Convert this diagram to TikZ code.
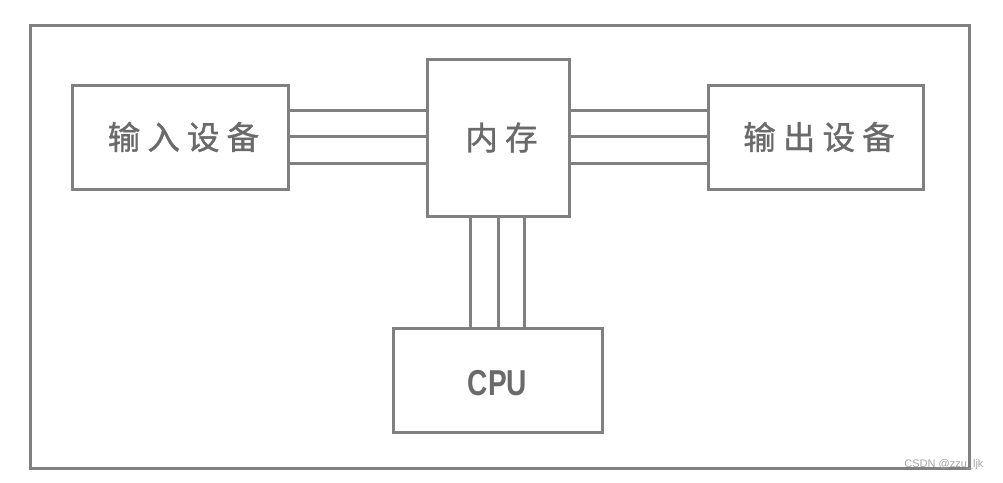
\documentclass[tikz,border=0pt]{standalone}
\usepackage{fontspec}
\setmainfont{Liberation Sans}
\newfontfamily\cjk[LetterSpace=22,FakeBold=1.2]{Noto Sans CJK SC}
\begin{document}
\begin{tikzpicture}[x=1pt,y=-1pt,
  frame/.style={draw=linegray,line width=3pt},
  unit/.style={draw=linegray,line width=3pt,fill=white,inner sep=0pt},
  bus/.style={draw=linegray,line width=3pt},
  lbl/.style={text=textgray,font=\cjk\fontsize{32.5}{32.5}\selectfont}]
\definecolor{linegray}{HTML}{808080}
\definecolor{textgray}{HTML}{6A6A6A}
\useasboundingbox (0,0) rectangle (1003,482);
\draw[frame] (30,25) rectangle (969,468);
% buses
\coordinate (l1a) at (288,110); \coordinate (l1b) at (427,110);
\coordinate (l2a) at (288,136); \coordinate (l2b) at (427,136);
\coordinate (l3a) at (288,163); \coordinate (l3b) at (427,163);
\coordinate (r1a) at (569,110); \coordinate (r1b) at (708,110);
\coordinate (r2a) at (569,136); \coordinate (r2b) at (708,136);
\coordinate (r3a) at (569,163); \coordinate (r3b) at (708,163);
\coordinate (v1a) at (470,216); \coordinate (v1b) at (470,328);
\coordinate (v2a) at (498,216); \coordinate (v2b) at (498,328);
\coordinate (v3a) at (524,216); \coordinate (v3b) at (524,328);
\foreach \p in {l1,l2,l3,r1,r2,r3,v1,v2,v3} \draw[bus] (\p a) -- (\p b);
% boxes
\node[unit,minimum width=216pt,minimum height=104pt] (in) at (180,137) {};
\node[lbl] at (in.center) {\hspace{7pt}输入设备};
\node[unit,minimum width=142pt,minimum height=157pt] (mem) at (498,137.5) {};
\node[lbl] at (mem.center) {\hspace{7pt}内存};
\node[unit,minimum width=215pt,minimum height=104pt] (out) at (815.5,137) {};
\node[lbl] at (out.center) {\hspace{7pt}输出设备};
\node[unit,minimum width=209pt,minimum height=104pt] (cpu) at (497.5,380) {};
\node[text=textgray,font=\bfseries\fontsize{36}{36}\selectfont,xscale=0.78] at ([yshift=-3pt]cpu.center) {CPU};
\node[text=gray!70,font=\fontsize{11}{11}\selectfont,anchor=east] (wm) at (987,465) {CSDN @zzu\_ljk};
\end{tikzpicture}
\end{document}
